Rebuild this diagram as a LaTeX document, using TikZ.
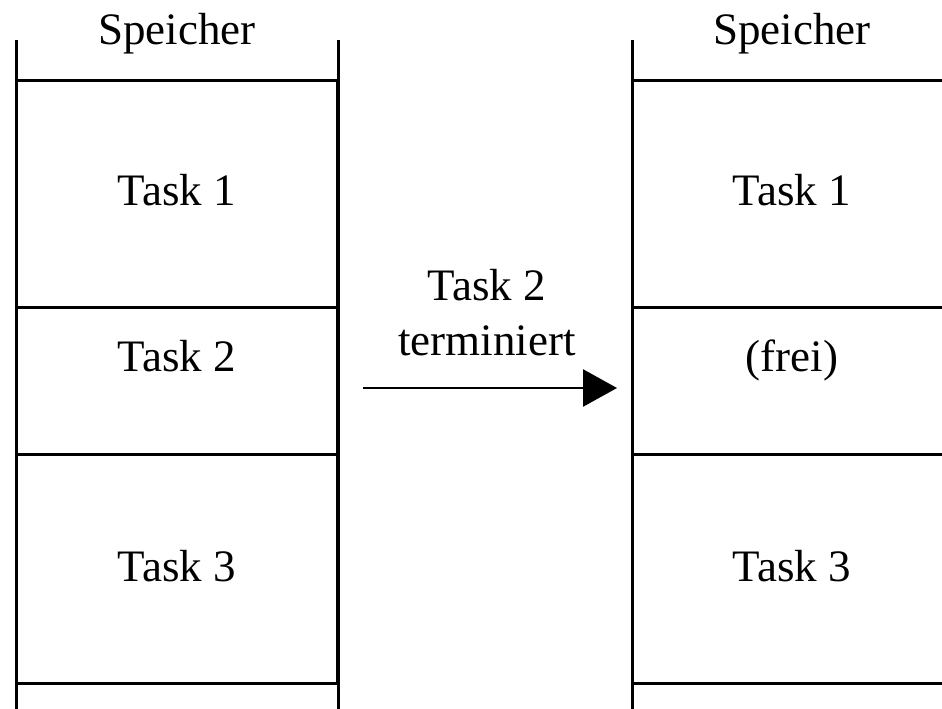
\documentclass[tikz,border=0pt]{standalone}
\usepackage{fontspec}
\setmainfont{Liberation Serif}
\usetikzlibrary{arrows.meta}
\begin{document}
\begin{tikzpicture}[x=1pt,y=-1pt,
  frame/.style={line width=3pt,black},
  label/.style={anchor=base,inner sep=0pt,font=\fontsize{45}{54}\selectfont},
  flow/.style={line width=2.6pt,-{Triangle[length=34pt,width=37pt]}}]
  \useasboundingbox (0,0) rectangle (942,709);
  \begin{scope}
    \clip (0,0) rectangle (942,709);
    % memory before: left column
    \draw[frame] (16,40) -- (16,709);
    \draw[frame] (338,40) -- (338,80);
    \draw[line width=4pt] (338,80) -- (338,683);
    \draw[frame] (338,683) -- (338,709);
    \foreach \yy in {80,307,454,683}
      \draw[frame] (16,\yy) -- (338,\yy);
    % memory after: right column, running past the right edge
    \draw[frame] (632,40) -- (632,709);
    \foreach \yy in {80,307,454,683}
      \draw[frame] (632,\yy) -- (960,\yy);
  \end{scope}

  % column headings
  \node[label] (headL) at (177,45) {Speicher};
  \node[label] (headR) at (792,45) {Speicher};

  % cell contents before
  \node[label] (t1L) at (177,205) {Task 1};
  \node[label] (t2L) at (177,371) {Task 2};
  \node[label] (t3L) at (177,581) {Task 3};

  % cell contents after
  \node[label] (t1R) at (792,205) {Task 1};
  \node[label] (freeR) at (792,371) {(frei)};
  \node[label] (t3R) at (792,581) {Task 3};

  % transition
  \node[label] (ev1) at (487,300) {Task 2};
  \node[label] (ev2) at (487,355) {terminiert};
  \coordinate (arrS) at (363,388);
  \coordinate (arrE) at (617,388);
  \draw[flow] (arrS) -- (arrE);
\end{tikzpicture}
\end{document}
